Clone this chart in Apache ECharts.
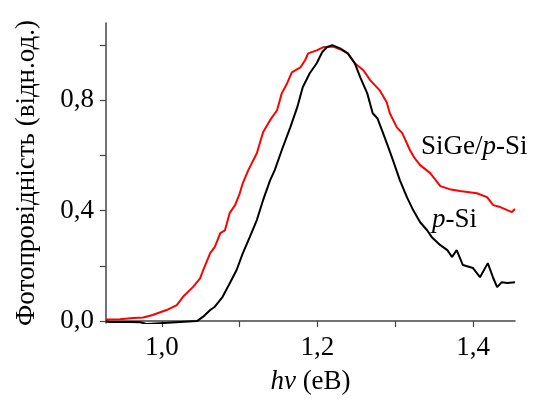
<!DOCTYPE html>
<html>
<head>
<meta charset="utf-8">
<script src="https://cdn.jsdelivr.net/npm/echarts@6/dist/echarts.min.js"></script>
<style>
  html, body { margin: 0; padding: 0; background: #fff; }
  #chart { width: 536px; height: 405px; }
</style>
</head>
<body>
<div id="chart"></div>
<script>
// SiGe/p-Si (червона крива)
const sigeX = [0.928, 0.946, 0.963, 0.976, 0.988, 1.006, 1.019, 1.027, 1.040, 1.049, 1.053, 1.062, 1.068, 1.075, 1.081, 1.087, 1.094, 1.100, 1.104, 1.111, 1.122, 1.130, 1.139, 1.148, 1.154, 1.161, 1.167, 1.178, 1.184, 1.188, 1.199, 1.207, 1.220, 1.229, 1.239, 1.248, 1.259, 1.268, 1.280, 1.289, 1.293, 1.302, 1.309, 1.319, 1.325, 1.332, 1.345, 1.358, 1.370, 1.383, 1.405, 1.418, 1.426, 1.435, 1.444, 1.450, 1.454]
const sigeY = [0.006, 0.007, 0.011, 0.013, 0.022, 0.040, 0.058, 0.088, 0.124, 0.155, 0.185, 0.246, 0.269, 0.319, 0.329, 0.391, 0.420, 0.463, 0.500, 0.547, 0.608, 0.684, 0.728, 0.764, 0.825, 0.862, 0.901, 0.919, 0.945, 0.970, 0.981, 0.992, 0.995, 0.985, 0.970, 0.934, 0.909, 0.872, 0.836, 0.793, 0.753, 0.702, 0.681, 0.619, 0.590, 0.565, 0.536, 0.489, 0.478, 0.471, 0.463, 0.449, 0.420, 0.413, 0.402, 0.395, 0.406]

// p-Si (чорна крива)
const psiX = [0.928, 0.933, 0.959, 0.972, 0.981, 0.997, 1.023, 1.045, 1.053, 1.062, 1.068, 1.078, 1.087, 1.096, 1.104, 1.113, 1.122, 1.130, 1.139, 1.145, 1.154, 1.165, 1.174, 1.181, 1.190, 1.199, 1.206, 1.212, 1.219, 1.229, 1.239, 1.248, 1.255, 1.264, 1.271, 1.277, 1.283, 1.291, 1.297, 1.306, 1.315, 1.323, 1.332, 1.341, 1.347, 1.358, 1.367, 1.373, 1.379, 1.387, 1.400, 1.409, 1.419, 1.426, 1.431, 1.437, 1.444, 1.454]
const psiY = [-0.002, -0.003, -0.003, -0.004, -0.011, -0.008, -0.003, 0.000, 0.016, 0.040, 0.052, 0.088, 0.136, 0.185, 0.246, 0.305, 0.366, 0.438, 0.510, 0.547, 0.619, 0.702, 0.775, 0.847, 0.898, 0.934, 0.974, 0.992, 1.000, 0.988, 0.970, 0.934, 0.883, 0.825, 0.753, 0.735, 0.691, 0.630, 0.583, 0.510, 0.449, 0.402, 0.358, 0.329, 0.304, 0.275, 0.257, 0.232, 0.257, 0.203, 0.192, 0.159, 0.210, 0.156, 0.123, 0.141, 0.138, 0.141]

const xTicks = [1.0, 1.1, 1.2, 1.3, 1.4]
const xLabels = [1.0, 1.2, 1.4]
const yTicks = [0, 0.2, 0.4, 0.6, 0.8, 1.0]
const yLabels = [0, 0.4, 0.8]

const zip = (xs, ys) => xs.map((x, i) => [x, ys[i]])
const fmt = v => v.toFixed(1).replace('.', ',')

const font = '"Liberation Serif", "Times New Roman", serif'
const fs = 27
const chart = echarts.init(document.getElementById('chart'))

const axisCommon = {
  type: 'value',
  splitLine: { show: false },
  axisLine: { show: true, lineStyle: { color: '#444', width: 1.5 } },
  axisTick: { show: true, length: 6, lineStyle: { color: '#444', width: 1.2 } },
  axisLabel: { color: '#000', fontFamily: font, fontSize: fs, formatter: fmt }
}

const option = {
  animation: false,
  textStyle: { fontFamily: font },
  grid: { left: 106, right: 21, top: 23, bottom: 82 },
  xAxis: {
    ...axisCommon,
    min: 0.928,
    max: 1.454,
    axisTick: { ...axisCommon.axisTick, customValues: xTicks },
    axisLabel: { ...axisCommon.axisLabel, margin: 11, customValues: xLabels },
    name: '{i|hν} (eB)',
    nameLocation: 'middle',
    nameGap: 45,
    nameTextStyle: {
      color: '#000', fontFamily: font, fontSize: fs,
      rich: { i: { fontStyle: 'italic', fontFamily: font, fontSize: fs, color: '#000' } }
    }
  },
  yAxis: {
    ...axisCommon,
    min: -0.007,
    max: 1.08,
    axisTick: { ...axisCommon.axisTick, customValues: yTicks },
    axisLabel: { ...axisCommon.axisLabel, margin: 12, customValues: yLabels },
    name: 'Фотопровідність (відн.од.)',
    nameLocation: 'middle',
    nameGap: 66,
    nameTextStyle: { color: '#000', fontFamily: font, fontSize: fs }
  },
  series: [
    {
      name: 'SiGe/p-Si',
      type: 'line',
      data: zip(sigeX, sigeY),
      showSymbol: false,
      lineStyle: { color: '#ff0000', width: 2 },
      z: 2
    },
    {
      name: 'p-Si',
      type: 'line',
      data: zip(psiX, psiY),
      showSymbol: false,
      lineStyle: { color: '#000', width: 2 },
      z: 3
    }
  ],
  graphic: [
    {
      type: 'text', left: 421, top: 133,
      style: {
        text: 'SiGe/{i|p}-Si', fill: '#000', fontFamily: font, fontSize: fs,
        rich: { i: { fontStyle: 'italic', fontFamily: font, fontSize: fs, fill: '#000' } }
      }
    },
    {
      type: 'text', left: 432, top: 206,
      style: {
        text: '{i|p}-Si', fill: '#000', fontFamily: font, fontSize: fs,
        rich: { i: { fontStyle: 'italic', fontFamily: font, fontSize: fs, fill: '#000' } }
      }
    }
  ]
}

chart.setOption(option)
</script>
</body>
</html>
